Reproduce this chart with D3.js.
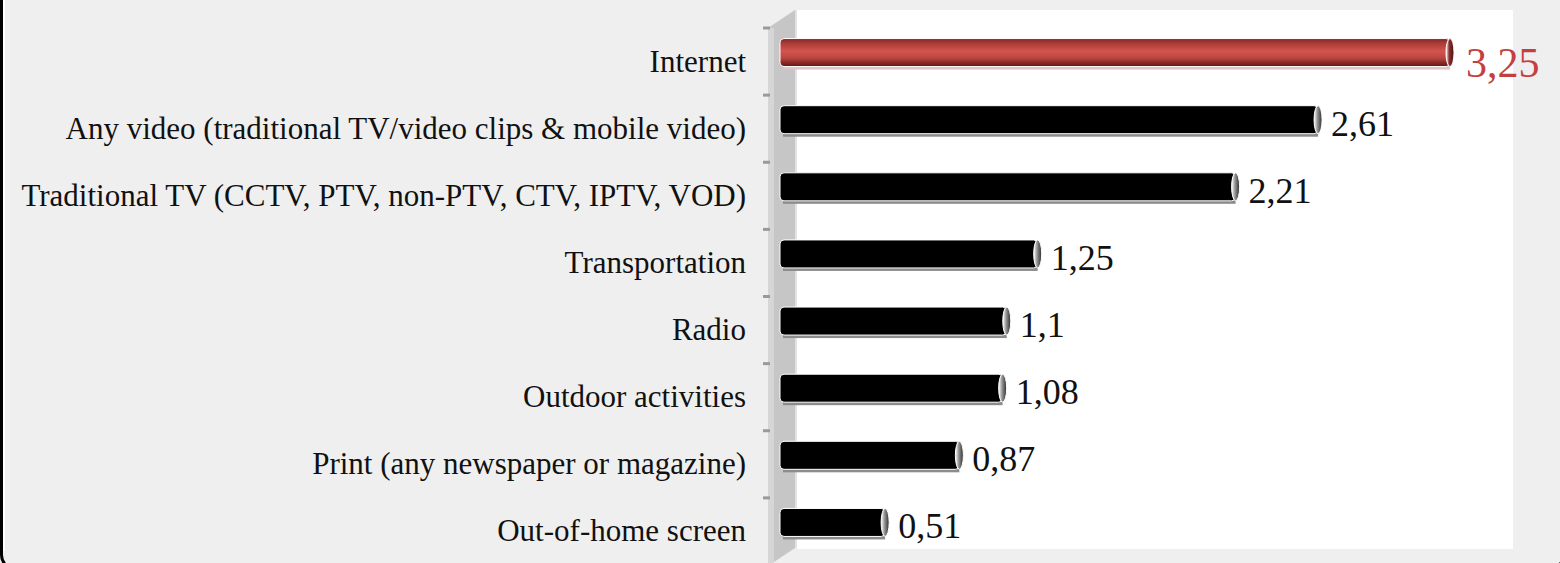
<!DOCTYPE html>
<html>
<head>
<meta charset="utf-8">
<script src="https://cdn.jsdelivr.net/npm/d3@7.9.0/dist/d3.min.js"></script>
<style>
  html, body { margin: 0; padding: 0; background: #efefef; }
  svg { display: block; }
</style>
</head>
<body>
<div id="chart"></div>
<script>
// ---- data ----
const categories = [
  'Internet',
  'Any video (traditional TV/video clips & mobile video)',
  'Traditional TV (CCTV, PTV, non-PTV, CTV, IPTV, VOD)',
  'Transportation',
  'Radio',
  'Outdoor activities',
  'Print (any newspaper or magazine)',
  'Out-of-home screen'
];
const values = [3.25, 2.61, 2.21, 1.25, 1.1, 1.08, 0.87, 0.51];
const valueLabels = ['3,25', '2,61', '2,21', '1,25', '1,1', '1,08', '0,87', '0,51'];
const highlight = ['Internet'];

const W = 1560, H = 563;

const svg = d3.select('#chart').append('svg')
  .attr('width', W).attr('height', H)
  .attr('viewBox', `0 0 ${W} ${H}`);

const defs = svg.append('defs');

const redGrad = defs.append('linearGradient')
  .attr('id', 'redBar').attr('x1', 0).attr('x2', 0).attr('y1', 0).attr('y2', 1);
[[0, '#7c2522'], [0.15, '#a63a36'], [0.45, '#d5544e'], [0.7, '#bb4540'], [0.88, '#812723'], [1, '#5c1917']]
  .forEach(([o, c]) => redGrad.append('stop').attr('offset', o).attr('stop-color', c));

const capGrad = defs.append('linearGradient')
  .attr('id', 'cap').attr('x1', 0).attr('x2', 1).attr('y1', 0).attr('y2', 0);
[[0, '#ffffff'], [0.4, '#9a9a9a'], [1, '#2a2a2a']]
  .forEach(([o, c]) => capGrad.append('stop').attr('offset', o).attr('stop-color', c));

const redCapGrad = defs.append('linearGradient')
  .attr('id', 'redCap').attr('x1', 0).attr('x2', 1).attr('y1', 0).attr('y2', 0);
[[0, '#ffffff'], [0.4, '#8c2e2a'], [1, '#4a1210']]
  .forEach(([o, c]) => redCapGrad.append('stop').attr('offset', o).attr('stop-color', c));

// ---- frame ----
svg.append('rect')
  .attr('x', 1.5).attr('y', -20).attr('width', W + 2).attr('height', H + 26)
  .attr('rx', 14).attr('fill', '#efefef').attr('stroke', '#000').attr('stroke-width', 3);
svg.append('line')
  .attr('x1', 4).attr('x2', 4).attr('y1', 0).attr('y2', H - 12)
  .attr('stroke', '#fff').attr('stroke-width', 2);

// ---- scales ----
const y = d3.scaleBand().domain(categories).range([28, 565]);
const x = d3.scaleLinear().domain([0, 3.25]).range([780, 1450]);
const depth = 9; // bars sit half way into the 3D depth
const barH = 28;

// plot area + 3D wall
svg.append('rect')
  .attr('x', 797).attr('y', 10).attr('width', 716).attr('height', 539)
  .attr('fill', '#fff');
svg.append('path')
  .attr('d', 'M768,28 L795,10 L795,548 L768,566 Z')
  .attr('fill', '#c6c6c6');
svg.append('rect')
  .attr('x', 768).attr('y', 28).attr('width', 6).attr('height', 540)
  .attr('fill', '#d6d6d6');
svg.append('line')
  .attr('x1', 796).attr('x2', 796).attr('y1', 10).attr('y2', 548)
  .attr('stroke', '#e2e2e2').attr('stroke-width', 2);

// axis ticks at band boundaries
const tickPos = categories.map(c => y(c)).concat([y.range()[1]]);
svg.append('g').selectAll('line').data(tickPos).join('line')
  .attr('x1', 763).attr('x2', 770)
  .attr('y1', d => d).attr('y2', d => d)
  .attr('stroke', '#9a9a9a').attr('stroke-width', 3);

// category labels
svg.append('g').selectAll('text').data(categories).join('text')
  .attr('x', 746)
  .attr('y', d => y(d) + y.bandwidth() / 2 + 10)
  .attr('text-anchor', 'end')
  .attr('font-family', '"Liberation Serif", "DejaVu Serif", serif')
  .attr('font-size', 31)
  .attr('fill', '#111')
  .text(d => d);

// ---- bars ----
const bars = svg.append('g').selectAll('g').data(categories).join('g')
  .attr('transform', d => `translate(0,${y(d) + y.bandwidth() / 2 - depth - barH / 2})`);

bars.append('rect')
  .attr('x', x(0) + 3).attr('y', 3)
  .attr('width', (d, i) => x(values[i]) - x(0) - 3)
  .attr('height', barH)
  .attr('fill', d => highlight.includes(d) ? '#dcc7c6' : '#8c8c8c');

bars.append('rect')
  .attr('x', x(0)).attr('y', 0)
  .attr('width', (d, i) => x(values[i]) - x(0))
  .attr('height', barH)
  .attr('rx', 4)
  .attr('fill', d => highlight.includes(d) ? 'url(#redBar)' : '#000')
  .attr('stroke', '#fff').attr('stroke-width', 1);

bars.append('ellipse')
  .attr('cx', (d, i) => x(values[i]))
  .attr('cy', barH / 2)
  .attr('rx', 4).attr('ry', barH / 2)
  .attr('fill', d => highlight.includes(d) ? 'url(#redCap)' : 'url(#cap)')
  .attr('stroke', '#fff').attr('stroke-width', 1);

// value labels
bars.append('text')
  .attr('x', (d, i) => x(values[i]) + (highlight.includes(d) ? 16 : 13))
  .attr('y', d => barH / 2 + (highlight.includes(d) ? 24 : 16))
  .attr('font-family', '"Liberation Serif", "DejaVu Serif", serif')
  .attr('font-size', d => highlight.includes(d) ? 42 : 36)
  .attr('fill', d => highlight.includes(d) ? '#c43f3f' : '#111')
  .text((d, i) => valueLabels[i]);
</script>
</body>
</html>
